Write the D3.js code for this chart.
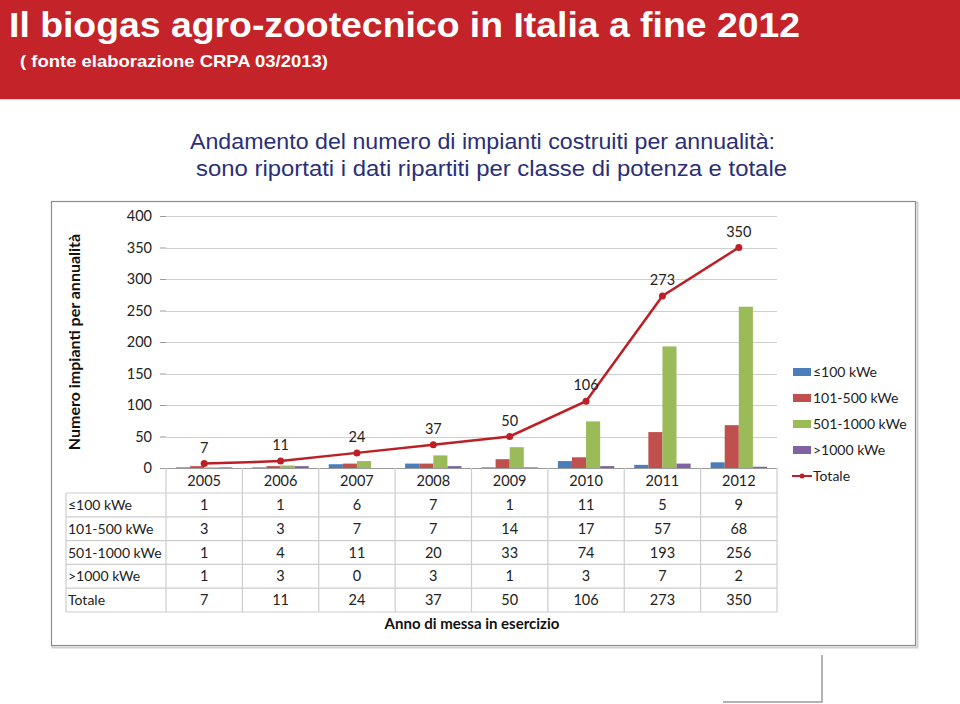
<!DOCTYPE html>
<html>
<head>
<meta charset="utf-8">
<script src="https://cdn.jsdelivr.net/npm/d3@7"></script>
<style>
  html, body { margin: 0; padding: 0; background: #ffffff; }
  svg { display: block; }
</style>
</head>
<body>
<svg id="chart" width="960" height="704"></svg>
<script>
// ---- data ----
const categories = ["2005", "2006", "2007", "2008", "2009", "2010", "2011", "2012"];
const seriesNames = ["\u2264100 kWe", "101-500 kWe", "501-1000 kWe", ">1000 kWe"];
const le100 = [1, 1, 6, 7, 1, 11, 5, 9];
const r101_500 = [3, 3, 7, 7, 14, 17, 57, 68];
const r501_1000 = [1, 4, 11, 20, 33, 74, 193, 256];
const gt1000 = [1, 3, 0, 3, 1, 3, 7, 2];
const totale = [7, 11, 24, 37, 50, 106, 273, 350];
const yTicks = [0, 50, 100, 150, 200, 250, 300, 350, 400];
const seriesColors = ["#4A7EBB", "#C0504D", "#9BBB59", "#8064A2"];
const lineColor = "#BD1F26";

const seriesValues = [le100, r101_500, r501_1000, gt1000];

const svg = d3.select("#chart");
const chartFont = "Lato, 'Open Sans', sans-serif";

// ---- header band ----
svg.append("rect").attr("x", 0).attr("y", 0).attr("width", 960).attr("height", 99).attr("fill", "#C4232A");
svg.append("line").attr("x1", 0).attr("x2", 960).attr("y1", 99.5).attr("y2", 99.5).attr("stroke", "#e6d9d9").attr("stroke-width", 1);

svg.append("text")
  .attr("x", 9).attr("y", 37)
  .attr("font-family", "'Liberation Sans Narrow', 'Liberation Sans', Arial, sans-serif")
  .attr("font-weight", "bold").attr("font-size", 35)
  .attr("fill", "#ffffff")
  .attr("textLength", 791).attr("lengthAdjust", "spacingAndGlyphs")
  .text("Il biogas agro-zootecnico in Italia a fine 2012");

svg.append("text")
  .attr("x", 20).attr("y", 67)
  .attr("font-family", "'Liberation Sans Narrow', 'Liberation Sans', Arial, sans-serif")
  .attr("font-weight", "bold").attr("font-size", 17)
  .attr("fill", "#ffffff")
  .attr("textLength", 308).attr("lengthAdjust", "spacingAndGlyphs")
  .text("( fonte elaborazione CRPA 03/2013)");

// ---- slide subtitle ----
const subColor = "#2A2F78";
svg.append("text")
  .attr("x", 190).attr("y", 149)
  .attr("font-family", "'Liberation Sans', Arial, sans-serif").attr("font-size", 22)
  .attr("fill", subColor)
  .attr("textLength", 585).attr("lengthAdjust", "spacingAndGlyphs")
  .text("Andamento del numero di impianti costruiti per annualit\u00e0:");
svg.append("text")
  .attr("x", 196).attr("y", 176)
  .attr("font-family", "'Liberation Sans', Arial, sans-serif").attr("font-size", 22)
  .attr("fill", subColor)
  .attr("textLength", 591).attr("lengthAdjust", "spacingAndGlyphs")
  .text("sono riportati i dati ripartiti per classe di potenza e totale");

// ---- chart frame ----
svg.append("rect").attr("x", 52.5).attr("y", 202.5).attr("width", 865).attr("height", 445)
  .attr("fill", "none").attr("stroke", "#d0d0d0").attr("stroke-width", 2);
svg.append("rect").attr("x", 51.5).attr("y", 201.5).attr("width", 864).attr("height", 444)
  .attr("fill", "#ffffff").attr("stroke", "#8c8c8c").attr("stroke-width", 1.2);

// stray L-shaped line at bottom
svg.append("path").attr("d", "M822,655 L822,702 L723,702")
  .attr("fill", "none").attr("stroke", "#9a9a9a").attr("stroke-width", 1.5);

// ---- scales ----
const x = d3.scaleBand().domain(categories).range([166, 777]).paddingInner(0).paddingOuter(0);
const xs = d3.scaleBand().domain(seriesNames).range([10, x.bandwidth() - 10]).paddingInner(0);
const y = d3.scaleLinear().domain([0, 400]).range([468, 216]);

// gridlines
svg.append("g").selectAll("line").data(yTicks.filter(d => d > 0)).join("line")
  .attr("x1", 166).attr("x2", 777)
  .attr("y1", d => Math.round(y(d)) + 0.5).attr("y2", d => Math.round(y(d)) + 0.5)
  .attr("stroke", "#cfcfcf").attr("stroke-width", 1);

// y axis
const yAxis = d3.axisLeft(y).tickValues(yTicks).tickSize(6).tickPadding(8);
const gy = svg.append("g").attr("transform", "translate(166,0)").call(yAxis);
gy.select(".domain").remove();
gy.selectAll(".tick line").attr("stroke", "#9a9a9a");
gy.selectAll(".tick text").attr("font-family", chartFont).attr("font-size", 14.5).attr("fill", "#222");

// y axis title
svg.append("text")
  .attr("transform", "translate(80,342) rotate(-90)")
  .attr("text-anchor", "middle")
  .attr("font-family", chartFont).attr("font-weight", "bold").attr("font-size", 16)
  .attr("fill", "#111")
  .text("Numero impianti per annualit\u00e0");

// ---- bars ----
const barData = [];
categories.forEach((c, i) => {
  seriesNames.forEach((s, j) => {
    barData.push({ cat: c, series: s, value: seriesValues[j][i], color: seriesColors[j] });
  });
});
svg.append("g").selectAll("rect").data(barData).join("rect")
  .attr("x", d => x(d.cat) + xs(d.series))
  .attr("width", xs.bandwidth())
  .attr("y", d => y(d.value))
  .attr("height", d => Math.max(y(0) - y(d.value), d.value === 0 ? 0 : 1.5))
  .attr("fill", d => d.color);

// ---- x axis line ----
svg.append("line").attr("x1", 166).attr("x2", 777).attr("y1", 468.5).attr("y2", 468.5)
  .attr("stroke", "#9a9a9a").attr("stroke-width", 1);

// ---- total line ----
const line = d3.line().x((d, i) => x(categories[i]) + x.bandwidth() / 2).y(d => y(d));
svg.append("path").datum(totale).attr("d", line)
  .attr("fill", "none").attr("stroke", lineColor).attr("stroke-width", 2.5);
svg.append("g").selectAll("circle").data(totale).join("circle")
  .attr("cx", (d, i) => x(categories[i]) + x.bandwidth() / 2)
  .attr("cy", d => y(d)).attr("r", 3.5).attr("fill", lineColor);
svg.append("g").selectAll("text").data(totale).join("text")
  .attr("x", (d, i) => x(categories[i]) + x.bandwidth() / 2)
  .attr("y", d => y(d) - 11)
  .attr("text-anchor", "middle")
  .attr("font-family", chartFont).attr("font-size", 14.5).attr("fill", "#222")
  .text(d => d);

// ---- data table ----
const rowH = 23.8;
const tableTop = 493;
const rowLabels = seriesNames.concat(["Totale"]);
const rowValues = seriesValues.concat([totale]);
const tableLeft = 66;
const gridColor = "#cdcdcd";
const tg = svg.append("g");

// horizontal row lines
d3.range(rowLabels.length + 1).forEach(k => {
  const yy = tableTop + k * rowH;
  tg.append("line").attr("x1", tableLeft).attr("x2", 777)
    .attr("y1", yy).attr("y2", yy).attr("stroke", gridColor).attr("stroke-width", 1.2);
});
// vertical lines
const boundaries = categories.map(c => x(c)).concat([x(categories[categories.length - 1]) + x.bandwidth()]);
boundaries.forEach(bx => {
  tg.append("line").attr("x1", bx).attr("x2", bx)
    .attr("y1", 468).attr("y2", tableTop + rowLabels.length * rowH)
    .attr("stroke", gridColor).attr("stroke-width", 1.2);
});
tg.append("line").attr("x1", tableLeft).attr("x2", tableLeft)
  .attr("y1", tableTop).attr("y2", tableTop + rowLabels.length * rowH)
  .attr("stroke", gridColor).attr("stroke-width", 1.2);

// header years
tg.selectAll("text.year").data(categories).join("text").attr("class", "year")
  .attr("x", d => x(d) + x.bandwidth() / 2).attr("y", 486)
  .attr("text-anchor", "middle")
  .attr("font-family", chartFont).attr("font-size", 14.5).attr("fill", "#222")
  .text(d => d);

rowLabels.forEach((lab, r) => {
  const cy = tableTop + r * rowH + rowH / 2 + 5;
  tg.append("text").attr("x", 68).attr("y", cy)
    .attr("font-family", chartFont).attr("font-size", 14).attr("fill", "#222")
    .text(lab);
  tg.selectAll(null).data(rowValues[r]).join("text")
    .attr("x", (d, i) => x(categories[i]) + x.bandwidth() / 2).attr("y", cy)
    .attr("text-anchor", "middle")
    .attr("font-family", chartFont).attr("font-size", 14.5).attr("fill", "#222")
    .text(d => d);
});

// x axis title
svg.append("text").attr("x", 472).attr("y", 629).attr("text-anchor", "middle")
  .attr("font-family", chartFont).attr("font-weight", "bold").attr("font-size", 15)
  .attr("fill", "#111")
  .text("Anno di messa in esercizio");

// ---- legend ----
const legY0 = 372, legStep = 26;
const lg = svg.append("g");
seriesNames.forEach((s, j) => {
  const yy = legY0 + j * legStep;
  lg.append("rect").attr("x", 793).attr("y", yy - 4).attr("width", 18).attr("height", 8).attr("fill", seriesColors[j]);
  lg.append("text").attr("x", 813).attr("y", yy + 5)
    .attr("font-family", chartFont).attr("font-size", 14).attr("fill", "#222").text(s);
});
const ty = legY0 + 4 * legStep;
lg.append("line").attr("x1", 792).attr("x2", 812).attr("y1", ty).attr("y2", ty)
  .attr("stroke", lineColor).attr("stroke-width", 2);
lg.append("circle").attr("cx", 802).attr("cy", ty).attr("r", 2.5).attr("fill", lineColor);
lg.append("text").attr("x", 813).attr("y", ty + 5)
  .attr("font-family", chartFont).attr("font-size", 14).attr("fill", "#222").text("Totale");
</script>
</body>
</html>
